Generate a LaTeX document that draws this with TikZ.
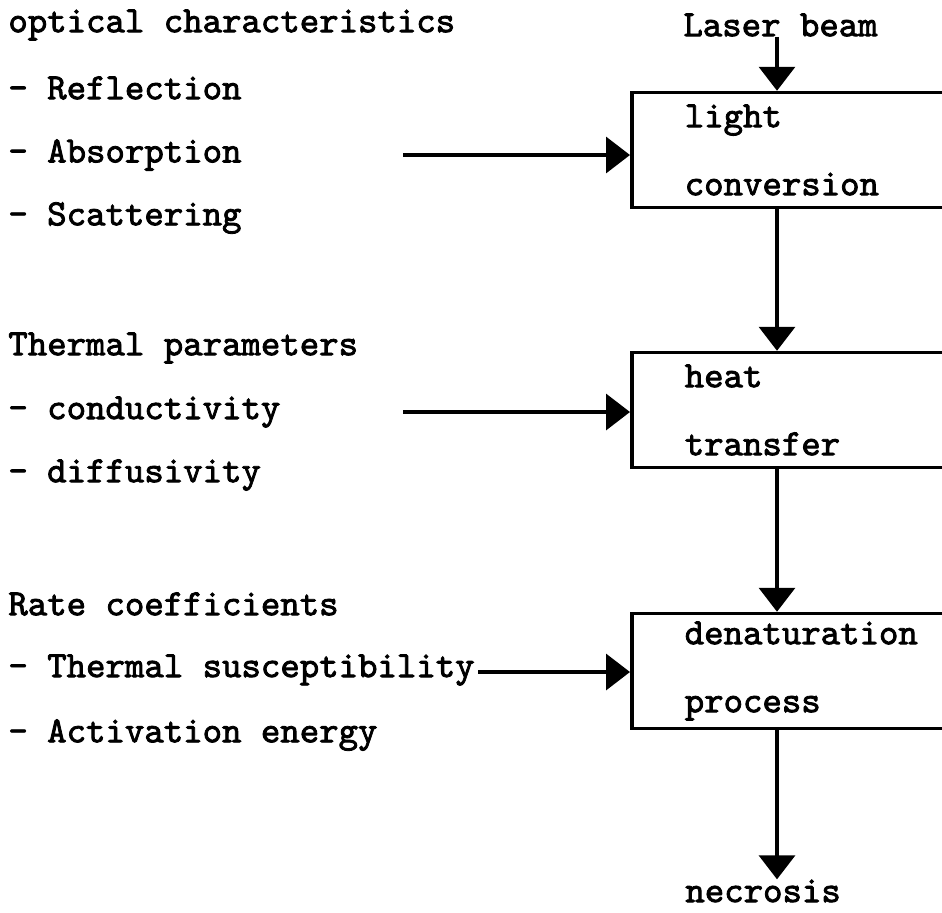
\documentclass[tikz,border=0pt]{standalone}
\usepackage{fontspec}
\newfontfamily\typew{lmmono10-regular.otf}[FakeBold=2.2]
\usetikzlibrary{arrows.meta,positioning}
\tikzset{
  lbl/.style={anchor=west, inner sep=0pt, font=\typew\fontsize{18.5}{19}\selectfont},
  stage/.style={draw, line width=1.75pt, anchor=west, minimum height=57.5pt,
    text width=112pt, inner xsep=26.5pt, inner ysep=0pt, align=left,
    font=\typew\fontsize{18.5}{34}\selectfont},
  flow/.style={line width=1.75pt, -{Triangle[width=18pt,length=12pt]}}
}

\begin{document}
\begin{tikzpicture}[x=0.5pt,y=-0.5pt]
      \path[use as bounding box] (0,0) rectangle (942,912);
      \clip (0,0) rectangle (942,912);
      \coordinate (axis) at (777,0);

      % parameters on the left
      \node[lbl] (optical) at (8,25) {optical characteristics};
      \node[lbl] (reflection) at (8,88) {- Reflection};
      \node[lbl] (absorption) at (8,155) {- Absorption};
      \node[lbl] (scattering) at (8,218) {- Scattering};

      \node[lbl] (thermal) at (8,348) {Thermal parameters};
      \node[lbl] (conduct) at (8,412) {- conductivity};
      \node[lbl] (diffus) at (8,475) {- diffusivity};

      \node[lbl] (rate) at (8,604) {Rate coefficients};
      \node[lbl] (suscept) at (8,670) {- Thermal susceptibility};
      \node[lbl] (activ) at (8,735) {- Activation energy};

      % process chain
      \node[lbl] (laser) at (683,25) {Laser beam};
      \node[stage] (light) at (630,150) {light\\conversion};
      \node[stage] (heat) at (630,410) {heat\\transfer};
      \node[stage] (denat) at (630,671) {denaturation\\process};
      \node[lbl] (necrosis) at (685,891) {necrosis};

      \coordinate (in1) at (403,155);
      \coordinate (in2) at (403,412);
      \coordinate (in3) at (478,672);

      \draw[flow] (laser.south -| axis) -- (light.north -| axis);
      \draw[flow] (light.south -| axis) -- (heat.north -| axis);
      \draw[flow] (heat.south -| axis) -- (denat.north -| axis);
      \draw[flow] (denat.south -| axis) -- (necrosis.north -| axis);

      \draw[flow] (in1) -- (in1 -| light.west);
      \draw[flow] (in2) -- (in2 -| heat.west);
      \draw[flow] (in3) -- (in3 -| denat.west);
    \end{tikzpicture}
\end{document}
